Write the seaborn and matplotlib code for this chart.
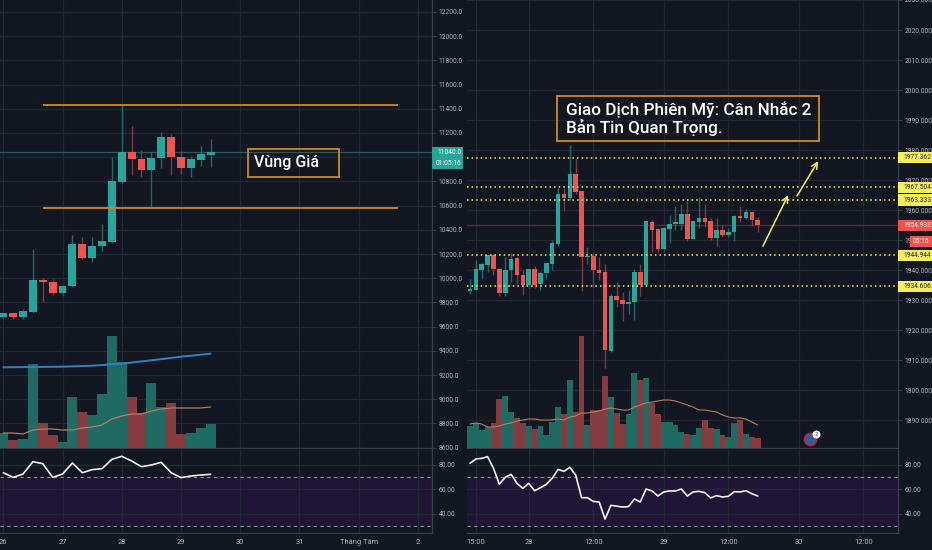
import matplotlib
matplotlib.use("Agg")
import matplotlib.pyplot as plt
from matplotlib.patches import Rectangle
import numpy as np
import pandas as pd
import seaborn as sns

BG = '#131722'
GRID = '#232733'
AXIS = '#3a3e4a'
LABEL = '#b2b5be'
UP = '#26a69a'
DOWN = '#ef5350'
UP_VOL = '#1f6b62'
DOWN_VOL = '#853b40'
UP_WICK = '#1c6a68'
DOWN_WICK = '#7c3a44'
ORANGE = '#d08a1d'
YELLOW = '#f5ee5e'
SMALL = 4.8

# left chart, one candle every 4 hours
left_open = [9676, 9709, 9682, 9723, 9985, 9971, 9874, 9935, 10279, 10169, 10263, 10301,
             10797, 11043, 10985, 10894, 10990, 11169, 11004, 10913, 10976, 11020]
left_close = [9709, 9682, 9728, 9985, 9968, 9874, 9938, 10279, 10169, 10266, 10307, 10803,
              11043, 10982, 10894, 10993, 11169, 11004, 10910, 10982, 11023, 11045]
left_high = [9715, 9715, 9742, 10238, 9998, 9996, 9943, 10357, 10337, 10337, 10447, 11004,
             11431, 11257, 11059, 11043, 11205, 11191, 11054, 11010, 11095, 11153]
left_low = [9671, 9660, 9665, 9709, 9803, 9858, 9858, 9930, 10155, 10133, 10227, 10293,
            10789, 10852, 10839, 10580, 10910, 10852, 10858, 10833, 10927, 10916]
left_vol = [15, 8, 9, 84, 25, 13, 6, 51, 36, 33, 54, 112, 86, 51, 35, 65, 41, 45, 14, 15, 20, 24]
left_vol_ma = [15, 15, 14, 18, 19, 19, 18, 18, 20, 21, 23, 29, 32, 34, 34, 37, 39, 40, 40, 40, 40, 41]
left_long_ma_x = [0, 3, 6, 9, 12, 15, 18, 21]
left_long_ma = [80.7, 81, 81.3, 82.3, 84.3, 87.7, 91.3, 94.3]
left_rsi = [73.3, 69.5, 72.2, 82.3, 80.7, 69.5, 72.2, 81.2, 73.3, 75.8, 76.6, 84.2, 86.7, 82.9,
            78.2, 79.6, 81.8, 73.3, 69.3, 70.6, 71.4, 72]

# right chart
right_open = [1933.1, 1933.5, 1940.1, 1941.6, 1945.0, 1940.5, 1932.2, 1940.0, 1943.9, 1938.4,
              1935.0, 1940.3, 1935.3, 1938.9, 1942.0, 1948.6, 1965.2, 1964.0, 1972.0, 1966.2,
              1944.2, 1944.7, 1940.1, 1939.3, 1913.1, 1931.3, 1930.0, 1928.6, 1929.4, 1939.4,
              1935.0, 1956.1, 1953.7, 1946.9, 1953.6, 1955.3, 1955.5, 1958.6, 1950.4, 1956.0,
              1957.3, 1956.2, 1950.6, 1953.4, 1951.7, 1952.6, 1958.0, 1957.4, 1959.3, 1956.6]
right_close = [1933.7, 1940.2, 1941.9, 1945.0, 1940.3, 1932.2, 1940.1, 1943.7, 1938.3, 1935.0,
               1940.2, 1935.1, 1939.1, 1942.2, 1948.9, 1965.2, 1963.9, 1972.0, 1966.0, 1944.2,
               1944.7, 1940.1, 1939.1, 1913.3, 1931.3, 1930.0, 1928.6, 1929.5, 1939.4, 1935.0,
               1956.2, 1953.5, 1946.9, 1954.0, 1955.5, 1956.0, 1958.6, 1950.4, 1956.2, 1957.3,
               1956.0, 1950.6, 1953.3, 1951.7, 1952.6, 1958.0, 1957.5, 1959.3, 1956.6, 1955.0]
right_high = [1936.9, 1943.3, 1942.2, 1945.0, 1945.3, 1940.5, 1944.2, 1945.7, 1944.2, 1940.0,
              1940.5, 1941.3, 1939.3, 1942.4, 1950.0, 1967.2, 1967.2, 1981.6, 1977.5, 1966.2,
              1947.7, 1945.7, 1944.4, 1942.0, 1932.0, 1936.1, 1932.7, 1933.5, 1940.5, 1942.0,
              1956.2, 1956.6, 1954.0, 1954.2, 1958.3, 1961.3, 1962.0, 1963.1, 1956.6, 1964.4,
              1962.0, 1957.2, 1957.2, 1955.0, 1953.9, 1958.2, 1961.3, 1960.5, 1959.5, 1957.7]
right_low = [1932.0, 1933.3, 1936.9, 1939.4, 1938.4, 1931.5, 1931.3, 1936.1, 1935.3, 1931.6,
             1933.9, 1933.9, 1933.5, 1936.9, 1940.0, 1948.0, 1959.6, 1963.5, 1965.5, 1933.1,
             1942.0, 1934.4, 1936.6, 1907.3, 1912.7, 1927.7, 1923.1, 1925.3, 1923.3, 1931.3,
             1934.6, 1946.1, 1946.1, 1946.6, 1949.1, 1953.5, 1953.3, 1949.7, 1950.2, 1954.0,
             1954.2, 1950.0, 1948.0, 1950.9, 1951.1, 1949.6, 1956.1, 1956.9, 1954.6, 1952.7]
right_vol = [22, 25, 18, 21, 25, 49, 52, 36, 30, 25, 22, 19, 22, 13, 26, 41, 34, 68, 36, 112,
             23, 38, 38, 72, 51, 35, 24, 34, 75, 68, 70, 45, 34, 26, 26, 23, 16, 14, 13, 20,
             28, 20, 19, 13, 11, 25, 28, 14, 11, 10]
right_vol_ma = [24, 25, 24, 21, 21, 22, 24, 25, 27, 28, 29, 29, 28, 28, 28, 29, 28, 31, 32, 35,
                35, 36, 37, 39, 40, 39, 38, 38, 41, 43, 45, 46, 47, 48, 48, 47, 45, 43, 41, 38,
                38, 37, 36, 33, 31, 30, 30, 29, 26, 23]
right_rsi = [81, 84.5, 85, 86.4, 76.9, 64, 69.5, 72, 64.6, 60.5, 64.6, 58.6, 61, 63.8, 68.7, 76,
             74.4, 77.7, 71.4, 52.9, 52.9, 49.9, 49.4, 35.5, 46.7, 46, 45.3, 45.6, 51.8, 49.4,
             60, 58.4, 54.3, 57.6, 58.4, 58.4, 60, 54.3, 57.6, 58.1, 57, 52.7, 54.6, 53.5, 54,
             57.8, 57.6, 58.6, 56.2, 54.3]

left_price_ticks = [8600, 8800, 9000, 9200, 9400, 9600, 9800, 10000, 10200, 10400, 10600, 10800,
                    11000, 11200, 11400, 11600, 11800, 12000, 12200]
right_price_ticks = [1890, 1900, 1910, 1920, 1930, 1940, 1950, 1960, 1970, 1980, 1990, 2000,
                     2010, 2020, 2030]
rsi_ticks = [40, 60, 80]
left_x_pos = [0, 6, 12, 18, 24, 30, 36, 42]
left_x_labels = ['26', '27', '28', '29', '30', '31', 'Tháng Tám', '2']
right_x_pos = [1, 10, 21, 33, 44, 56, 67]
right_x_labels = ['15:00', '28', '12:00', '29', '12:00', '30', '12:00']

right_levels = [1977.362, 1967.504, 1963.333, 1944.944, 1934.606]
left_band = [10577, 11431]
last_left = 11040
last_right = 1954.933

sns.set_theme(style="dark", rc={'figure.facecolor': BG, 'axes.facecolor': BG})
plt.rcParams['font.family'] = ['Roboto', 'DejaVu Sans']

W, H = 932, 550
fig = plt.figure(figsize=(W / 100, H / 100), dpi=100, facecolor=BG)


def make_axes(x0, x1, y0, y1):
    ax = fig.add_axes([x0 / W, 1 - y1 / H, (x1 - x0) / W, (y1 - y0) / H])
    ax.set_facecolor(BG)
    return ax


def style_axes(ax, ticks, fmt):
    ax.yaxis.tick_right()
    ax.set_yticks(ticks)
    ax.set_yticklabels([fmt % t for t in ticks])
    ax.tick_params(axis='y', colors=LABEL, labelsize=SMALL, length=3, width=0.7, pad=2, color=AXIS, left=False, right=True)
    ax.grid(True, color=GRID, linewidth=0.9)
    ax.set_axisbelow(True)
    ax.set_xlabel('')
    ax.set_ylabel('')
    for side in ['top', 'left']:
        ax.spines[side].set_visible(False)
    for side in ['right', 'bottom']:
        ax.spines[side].set_color(AXIS)
        ax.spines[side].set_linewidth(0.9)


def draw_candles(ax, o, c, hi, lo, width):
    df = pd.DataFrame({'i': np.arange(len(o)), 'o': o, 'c': c, 'hi': hi, 'lo': lo})
    df['top'] = df[['o', 'c']].max(axis=1)
    df['bot'] = df[['o', 'c']].min(axis=1)
    df['size'] = df['top'] - df['bot']
    up = df[df.c >= df.o]
    down = df[df.c < df.o]
    ax.vlines(up.i, up.lo, up.hi, color=UP_WICK, linewidth=1, zorder=2)
    ax.vlines(down.i, down.lo, down.hi, color=DOWN_WICK, linewidth=1, zorder=2)
    sns.barplot(data=up, x='i', y='size', bottom=up['bot'].values, color=UP, saturation=1, width=width,
                native_scale=True, errorbar=None, linewidth=0, ax=ax, zorder=3)
    sns.barplot(data=down, x='i', y='size', bottom=down['bot'].values, color=DOWN, saturation=1, width=width,
                native_scale=True, errorbar=None, linewidth=0, ax=ax, zorder=3)


def draw_volume(ax, o, c, vol, width):
    df = pd.DataFrame({'i': np.arange(len(vol)), 'vol': vol})
    df['side'] = np.where(np.array(c) >= np.array(o), 'up', 'down')
    sns.barplot(data=df, x='i', y='vol', hue='side', palette={'up': UP_VOL, 'down': DOWN_VOL}, dodge=False,
                saturation=1, width=width, native_scale=True, errorbar=None, linewidth=0, legend=False, ax=ax)


def draw_rsi(ax, rsi, xlim, x_pos, x_labels):
    ax.axhspan(30, 70, color='#1f1536', linewidth=0, zorder=0)
    sns.lineplot(x=np.arange(len(rsi)), y=rsi, color='#f2f0f5', linewidth=1.2, ax=ax, zorder=4)
    for level in [70, 30]:
        ax.axhline(level, color='#8d8c98', linewidth=0.8, linestyle=(0, (3, 3)), zorder=2)
    style_axes(ax, rsi_ticks, '%.2f')
    ax.set_xlim(*xlim)
    ax.set_ylim(24.1, 92.65)
    ax.set_xticks(x_pos)
    ax.set_xticklabels(x_labels)
    ax.tick_params(axis='x', colors=LABEL, labelsize=5.4, length=0, pad=4.5, bottom=True)


def tag(ax, y, text, fc, tc, h):
    tr = ax.get_yaxis_transform()
    ax.add_patch(Rectangle((1, y - h / 2), 34 / 431, h, transform=tr, facecolor=fc,
                           edgecolor='none', clip_on=False, zorder=6))
    ax.text(1 + 5 / 431, y, text, transform=tr, color=tc, fontsize=SMALL, va='center', ha='left',
            clip_on=False, zorder=7)


# left pane
left_xlim = (-0.334, 43.43)
ax_lv = make_axes(0, 432, 0, 448)
draw_volume(ax_lv, left_open, left_close, left_vol, 1.0)
sns.lineplot(x=np.arange(len(left_vol_ma)), y=left_vol_ma, color='#b07f5e', linewidth=0.9, ax=ax_lv)
sns.lineplot(x=left_long_ma_x, y=left_long_ma, color='#2f80c9', linewidth=1.4, ax=ax_lv)
ax_lv.set_xlim(*left_xlim)
ax_lv.set_ylim(0, 448)
ax_lv.axis('off')
ax_lv.patch.set_visible(False)

ax_l = make_axes(0, 432, 0, 448)
ax_l.set_zorder(ax_lv.get_zorder() - 1)
style_axes(ax_l, left_price_ticks, '%.1f')
ax_l.set_xticks(left_x_pos)
ax_l.tick_params(axis='x', labelbottom=False, length=0)
ax_l.set_xlim(*left_xlim)
ax_l.set_ylim(8597, 12299)

ax_lc = make_axes(0, 432, 0, 448)
ax_lc.patch.set_visible(False)
ax_lc.set_zorder(ax_lv.get_zorder() + 1)
ax_lc.axhline(last_left, color='#2b5a5e', linewidth=0.9, zorder=1)
draw_candles(ax_lc, left_open, left_close, left_high, left_low, 0.8)
ax_lc.hlines(left_band, 4.03, 40, color=ORANGE, linewidth=1.3, zorder=4)
ax_lc.set_xlim(*left_xlim)
ax_lc.set_ylim(8597, 12299)
ax_lc.axis('off')

tr_lc = ax_lc.get_yaxis_transform()
ax_lc.add_patch(Rectangle((1, 10902), 31 / 432, 182, transform=tr_lc, facecolor=UP, edgecolor='none',
                          clip_on=False, zorder=6))
ax_lc.text(1 + 5 / 432, last_left, '11040.0', transform=tr_lc, color='white', fontsize=SMALL, va='center',
           clip_on=False, zorder=7)
ax_lc.text(1 + 4 / 432, 10948, '01:05:16', transform=tr_lc, color='white', fontsize=SMALL, va='center',
           clip_on=False, zorder=7)

fig.patches.append(Rectangle((248 / W, 1 - 177 / H), 91 / W, 28 / H, transform=fig.transFigure, facecolor='none',
                             edgecolor=ORANGE, linewidth=1.3))
fig.text(254 / W, 1 - 163 / H, 'Vùng Giá', color='white', fontsize=11.5, fontweight='medium', va='center')

ax_lr = make_axes(0, 432, 449, 533)
draw_rsi(ax_lr, left_rsi, left_xlim, left_x_pos, left_x_labels)

# right pane
right_xlim = (-0.511, 72.9)
ax_rv = make_axes(467, 898, 0, 448)
draw_volume(ax_rv, right_open, right_close, right_vol, 1.0)
sns.lineplot(x=np.arange(len(right_vol_ma)), y=right_vol_ma, color='#b07f5e', linewidth=0.8, ax=ax_rv)
ax_rv.set_xlim(*right_xlim)
ax_rv.set_ylim(0, 448)
ax_rv.axis('off')
ax_rv.patch.set_visible(False)

ax_r = make_axes(467, 898, 0, 448)
ax_r.set_zorder(ax_rv.get_zorder() - 1)
style_axes(ax_r, right_price_ticks, '%.3f')
ax_r.set_xticks(right_x_pos)
ax_r.tick_params(axis='x', labelbottom=False, length=0)
ax_r.set_xlim(*right_xlim)
ax_r.set_ylim(1880.67, 2030)

ax_rc = make_axes(467, 898, 0, 448)
ax_rc.patch.set_visible(False)
ax_rc.set_zorder(ax_rv.get_zorder() + 1)
ax_rc.axhline(last_right, color='#5b2c35', linewidth=1, zorder=1)
draw_candles(ax_rc, right_open, right_close, right_high, right_low, 0.78)
for level in right_levels:
    ax_rc.axhline(level, color=YELLOW, linewidth=1.1, linestyle=(0, (1, 2)), zorder=4)
    tag(ax_rc, level, '%.3f' % level, YELLOW, '#2a2a20', 3.7)
tag(ax_rc, last_right, '%.3f' % last_right, DOWN, 'white', 3.6)
tr_rc = ax_rc.get_yaxis_transform()
ax_rc.add_patch(Rectangle((1 + 12 / 431, 1947.6), 22 / 431, 3.7, transform=tr_rc, facecolor=DOWN, edgecolor='none',
                          clip_on=False, zorder=6))
ax_rc.text(1 + 15 / 431, 1949.4, '05:16', transform=tr_rc, color='white', fontsize=SMALL, va='center',
           clip_on=False, zorder=7)
ax_rc.annotate('', xy=(54.2, 1965), xytext=(49.9, 1948),
               arrowprops=dict(arrowstyle='->', color=YELLOW, linewidth=1.1, mutation_scale=11, shrinkA=0, shrinkB=0))
ax_rc.annotate('', xy=(59.3, 1976.3), xytext=(55.7, 1964.7),
               arrowprops=dict(arrowstyle='->', color=YELLOW, linewidth=1.1, mutation_scale=11, shrinkA=0, shrinkB=0))
ax_rc.scatter([57.9], [1883.7], s=75, color='#3d5a9e', edgecolor='#b5263f', linewidth=1.2, zorder=6)
ax_rc.scatter([59], [1885.2], s=22, color='white', zorder=7)
ax_rc.text(59, 1885.2, '2', color='#333333', fontsize=4.5, ha='center', va='center', zorder=8)
ax_rc.set_xlim(*right_xlim)
ax_rc.set_ylim(1880.67, 2030)
ax_rc.axis('off')

fig.patches.append(Rectangle((557 / W, 1 - 141 / H), 262 / W, 45 / H, transform=fig.transFigure, facecolor='none',
                             edgecolor=ORANGE, linewidth=1.3))
fig.text(566 / W, 1 - 119 / H, 'Giao Dịch Phiên Mỹ: Cân Nhắc 2\nBản Tin Quan Trọng.', color='white', fontsize=12.3,
         fontweight='medium', va='center', linespacing=1.05)

ax_rr = make_axes(467, 898, 449, 533)
draw_rsi(ax_rr, right_rsi, right_xlim, right_x_pos, right_x_labels)

fig.savefig('out.png', dpi=100, facecolor=BG)
